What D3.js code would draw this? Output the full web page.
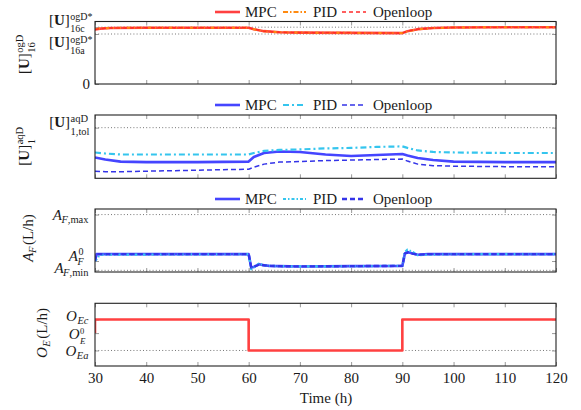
<!DOCTYPE html>
<html><head><meta charset="utf-8">
<script src="https://cdn.jsdelivr.net/npm/d3@7"></script>
<style>body{margin:0;background:#fff}svg{display:block}</style>
</head><body><svg id="c" width="581" height="410" font-family="Liberation Serif, Times New Roman, DejaVu Serif, serif"></svg>
<script>
// ---- data ----
const xTicks = [30, 40, 50, 60, 70, 80, 90, 100, 110, 120];
const seriesNames = ["MPC", "PID", "Openloop"];

// panel 1: [U]^ogD_16 (normalised: 16c = 1, 16a = 0.88)
const u16Time = [30, 31, 33, 40, 50, 60, 61, 63, 66, 70, 80, 90, 91, 93, 96, 100, 110, 120];
const u16MPC  = [0.96, 0.975, 0.985, 0.99, 0.99, 0.99, 0.965, 0.93, 0.91, 0.905, 0.9, 0.895, 0.93, 0.965, 0.985, 0.995, 1.0, 1.0];
const u16PID  = [0.965, 0.978, 0.987, 0.99, 0.992, 0.99, 0.962, 0.928, 0.91, 0.905, 0.9, 0.896, 0.928, 0.962, 0.984, 0.994, 1.0, 1.0];
const u16Open = [0.96, 0.975, 0.985, 0.99, 0.99, 0.99, 0.965, 0.93, 0.91, 0.905, 0.9, 0.895, 0.93, 0.965, 0.985, 0.995, 1.0, 1.0];
const u16Ref = {c: 1.0, a: 0.88};

// panel 2: [U]^aqD_1 (normalised: tol = 1)
const u1Time = [30, 32, 35, 40, 50, 60, 61, 63, 66, 70, 75, 80, 85, 90, 91, 93, 96, 100, 110, 120];
const u1MPC  = [0.41, 0.37, 0.33, 0.32, 0.32, 0.33, 0.42, 0.50, 0.53, 0.52, 0.47, 0.44, 0.46, 0.48, 0.45, 0.40, 0.36, 0.33, 0.32, 0.32];
const u1PID  = [0.51, 0.49, 0.47, 0.47, 0.47, 0.47, 0.50, 0.54, 0.56, 0.57, 0.59, 0.60, 0.62, 0.63, 0.60, 0.55, 0.52, 0.51, 0.50, 0.50];
const u1Open = [0.14, 0.13, 0.13, 0.14, 0.16, 0.18, 0.22, 0.28, 0.32, 0.33, 0.35, 0.36, 0.37, 0.38, 0.34, 0.28, 0.25, 0.24, 0.23, 0.23];
const u1Tol = 1.0;

// panel 3: A_F (normalised: min = 0, max = 1)
const afTime = [30, 30.3, 31, 60, 60.5, 61, 62, 63, 64, 66, 70, 80, 90, 90.5, 91, 92, 93, 95, 100, 120];
const afMPC  = [0.167, 0.29, 0.29, 0.29, 0.05, 0.06, 0.11, 0.09, 0.08, 0.075, 0.07, 0.075, 0.08, 0.30, 0.33, 0.30, 0.28, 0.29, 0.29, 0.29];
const afPID  = [0.167, 0.20, 0.28, 0.29, 0.02, 0.05, 0.12, 0.09, 0.08, 0.075, 0.07, 0.075, 0.08, 0.33, 0.37, 0.33, 0.27, 0.28, 0.29, 0.29];
const afOpen = [0.167, 0.29, 0.29, 0.29, 0.05, 0.06, 0.10, 0.09, 0.08, 0.075, 0.07, 0.075, 0.08, 0.30, 0.32, 0.30, 0.28, 0.29, 0.29, 0.29];
const afRef = {max: 1.0, zero: 0.167, min: 0.0};

// panel 4: O_E (normalised: Ea = 0, Ec = 1)
const oeTime = [30, 30, 60, 60, 90, 90, 120];
const oeVal  = [0.56, 1, 1, 0, 0, 1, 1];
const oeRef = {c: 1, zero: 0.56, a: 0};

// ---- layout ----
const FONT = '"Liberation Serif", "Times New Roman", "DejaVu Serif", serif';
const svg = d3.select("#c");
const X0 = 95, X1 = 556;
const x = d3.scaleLinear().domain([30, 120]).range([X0, X1]);

function mathText(parent, spec, opts) {
  const size = opts.size || 15;
  const ss = spec.ss || size * 0.7;
  const g = parent.append("g");
  const inner = g.append("g");
  function addSegs(t, segs) {
    t.style("font-family", FONT).attr("fill", "#1a1a1a");
    segs.forEach(s => {
      const ts = t.append("tspan").text(s[0]);
      if (s[1] === "b") ts.attr("font-weight", "bold");
      if (s[1] === "i") ts.attr("font-style", "italic");
    });
  }
  const tb = inner.append("text").attr("x", 0).attr("y", 0).attr("font-size", size);
  addSegs(tb, spec.base);
  let w = tb.node().getComputedTextLength();
  let ws = 0;
  if (spec.sup) {
    const t = inner.append("text").attr("x", w + 0.5 + (spec.supShift || 0)).attr("y", spec.supDy).attr("font-size", spec.supSize || ss);
    addSegs(t, spec.sup);
    ws = Math.max(ws, t.node().getComputedTextLength() + (spec.supShift || 0));
  }
  if (spec.sub) {
    const t = inner.append("text").attr("x", w + 0.5 + (spec.subShift || 0)).attr("y", spec.subDy).attr("font-size", spec.subSize || ss);
    addSegs(t, spec.sub);
    ws = Math.max(ws, t.node().getComputedTextLength() + (spec.subShift || 0));
  }
  let total = w + (ws ? ws + 1 : 0);
  if (spec.after) {
    const t = inner.append("text").attr("x", total + 1).attr("y", 0).attr("font-size", size);
    addSegs(t, spec.after);
    total += 1 + t.node().getComputedTextLength();
  }
  let dx = 0;
  if (opts.anchor === "end") dx = -total;
  else if (opts.anchor === "middle") dx = -total / 2;
  inner.attr("transform", `translate(${dx},0)`);
  g.attr("transform", `translate(${opts.x},${opts.y})` + (opts.rotate ? ` rotate(${opts.rotate})` : ""));
  return g;
}

function panel(cfg) {
  const y = d3.scaleLinear().domain(cfg.domain).range([cfg.bottom, cfg.top]);
  const g = svg.append("g");
  cfg.refs.forEach(r => {
    g.append("line").attr("x1", X0).attr("x2", X1).attr("y1", y(r)).attr("y2", y(r))
      .attr("stroke", "#777").attr("stroke-width", 1).attr("stroke-dasharray", "1,2.2");
  });
  const tb = g.append("g").attr("transform", `translate(0,${cfg.bottom})`)
    .call(d3.axisBottom(x).tickValues(xTicks).tickSize(-4).tickFormat(""));
  const tt = g.append("g").attr("transform", `translate(0,${cfg.top})`)
    .call(d3.axisTop(x).tickValues(xTicks).tickSize(-4).tickFormat(""));
  const tl = g.append("g").attr("transform", `translate(${X0},0)`)
    .call(d3.axisLeft(y).tickValues(cfg.yticks).tickSize(-4).tickFormat(""));
  const tr = g.append("g").attr("transform", `translate(${X1},0)`)
    .call(d3.axisRight(y).tickValues(cfg.yticks).tickSize(-4).tickFormat(""));
  [tb, tt, tl, tr].forEach(a => { a.select(".domain").remove(); a.selectAll("line").attr("stroke", "#999"); });
  const clipId = "clip" + Math.round(cfg.top);
  svg.append("clipPath").attr("id", clipId).append("rect")
    .attr("x", X0).attr("y", cfg.top).attr("width", X1 - X0).attr("height", cfg.bottom - cfg.top);
  const line = d3.line().x(d => x(d[0])).y(d => y(d[1]));
  cfg.series.forEach(s => {
    const pts = s.t.map((t, i) => [t, s.v[i]]);
    g.append("path").attr("d", line(pts)).attr("fill", "none").attr("clip-path", `url(#${clipId})`)
      .attr("stroke", s.color).attr("stroke-width", s.w).attr("stroke-dasharray", s.dash || null)
      .attr("stroke-linejoin", "round");
  });
  g.append("rect").attr("x", X0).attr("y", cfg.top).attr("width", X1 - X0).attr("height", cfg.bottom - cfg.top)
    .attr("fill", "none").attr("stroke", "#222").attr("stroke-width", 1.1);
  if (cfg.legend) {
    const ly = cfg.legendY;
    const pos = [[215, 240, 245], [283, 306, 313], [342, 366, 373]];
    cfg.series.forEach((s, i) => {
      g.append("line").attr("x1", pos[i][0]).attr("x2", pos[i][1]).attr("y1", ly).attr("y2", ly)
        .attr("stroke", s.color).attr("stroke-width", s.lw || s.w).attr("stroke-dasharray", s.dash || null);
      g.append("text").attr("x", pos[i][2]).attr("y", ly + 5).attr("font-size", 15)
        .style("font-family", FONT).attr("fill", "#1a1a1a").text(seriesNames[i]);
    });
  }
  return {g, y};
}

const red = "#ff4040", orange = "#ff8a10", blue = "#4545ff", cyan = "#35c5ee", dblue = "#3434e8";
const UB = [["[", "n"], ["U", "b"], ["]", "n"]];

// Panel 1
const p1 = panel({
  top: 21.5, bottom: 84, domain: [0, 1.1], refs: [u16Ref.c, u16Ref.a], yticks: [0, u16Ref.a, u16Ref.c],
  legend: true, legendY: 12,
  series: [
    {t: u16Time, v: u16MPC, color: red, w: 2.6},
    {t: u16Time, v: u16PID, color: orange, w: 2, dash: "5,2,1.5,2"},
    {t: u16Time, v: u16Open, color: "#ff2a2a", w: 1.5, dash: "4,3"}
  ]
});
p1.g.append("text").attr("x", 90).attr("y", p1.y(0) + 5).attr("text-anchor", "end").attr("font-size", 15)
  .style("font-family", FONT).attr("fill", "#1a1a1a").text("0");
mathText(svg, {base: UB, sup: [["ogD*", "n"]], sub: [["16c", "n"]], supDy: -5, subDy: 6.5, ss: 10},
  {x: 93, y: p1.y(u16Ref.c) - 2, anchor: "end", size: 15});
mathText(svg, {base: UB, sup: [["ogD*", "n"]], sub: [["16a", "n"]], supDy: -4.5, subDy: 7, ss: 10},
  {x: 93, y: p1.y(u16Ref.a) + 13, anchor: "end", size: 15});
mathText(svg, {base: UB, sup: [["ogD", "n"]], sub: [["16", "n"]], supDy: -6, subDy: 6},
  {x: 29, y: 54, anchor: "middle", size: 15, rotate: -90});

// Panel 2
const p2 = panel({
  top: 115, bottom: 178.3, domain: [0, 1.25], refs: [u1Tol], yticks: [u1Tol],
  legend: true, legendY: 105,
  series: [
    {t: u1Time, v: u1MPC, color: blue, w: 2.6},
    {t: u1Time, v: u1PID, color: cyan, w: 2.2, dash: "6,3,2,3"},
    {t: u1Time, v: u1Open, color: dblue, w: 1.5, dash: "5,3"}
  ]
});
mathText(svg, {base: UB, sup: [["aqD", "n"]], sub: [["1,tol", "n"]], supDy: -5, subDy: 8},
  {x: 90, y: p2.y(u1Tol) - 1, anchor: "end", size: 15});
mathText(svg, {base: UB, sup: [["aqD", "n"]], sub: [["1", "n"]], supDy: -6, subDy: 6},
  {x: 29, y: 146, anchor: "middle", size: 15, rotate: -90});

// Panel 3
const p3 = panel({
  top: 209, bottom: 272, domain: [-0.03, 1.1], refs: [afRef.max, afRef.min], yticks: [afRef.min, afRef.zero, afRef.max],
  legend: true, legendY: 199,
  series: [
    {t: afTime, v: afMPC, color: blue, w: 2.6},
    {t: afTime, v: afPID, color: cyan, w: 2.2, dash: "3,2,1.5,2"},
    {t: afTime, v: afOpen, color: dblue, w: 2.4, dash: "5,3"}
  ]
});
mathText(svg, {base: [["A", "i"]], sub: [["F", "i"], [",max", "n"]], subDy: 3, subShift: -1},
  {x: 89, y: p3.y(afRef.max) + 5, anchor: "end", size: 15});
mathText(svg, {base: [["A", "i"]], sup: [["0", "n"]], sub: [["F", "i"]], supDy: -6, subDy: 4, subShift: -1, ss: 10},
  {x: 84, y: 261, anchor: "end", size: 15});
mathText(svg, {base: [["A", "i"]], sub: [["F", "i"], [",min", "n"]], subDy: 3, subShift: -1},
  {x: 89, y: 273, anchor: "end", size: 15});
mathText(svg, {base: [["A", "i"]], sub: [["F", "i"]], after: [[" (L/h)", "n"]], subDy: 3, subShift: -1},
  {x: 33, y: 238, anchor: "middle", size: 15, rotate: -90});

// Panel 4
const p4 = panel({
  top: 303.3, bottom: 366, domain: [-0.5, 1.52], refs: [oeRef.a], yticks: [oeRef.a, oeRef.zero, oeRef.c],
  legend: false,
  series: [{t: oeTime, v: oeVal, color: red, w: 2.6}]
});
mathText(svg, {base: [["O", "i"]], sub: [["Ec", "i"]], subDy: 2.5},
  {x: 89, y: 321, anchor: "end", size: 15});
mathText(svg, {base: [["O", "i"]], sup: [["0", "n"]], sub: [["E", "i"]], supDy: -5, subDy: 5, supSize: 8.5, subSize: 9},
  {x: 86, y: 339, anchor: "end", size: 15});
mathText(svg, {base: [["O", "i"]], sub: [["Ea", "i"]], subDy: 3},
  {x: 89, y: 356, anchor: "end", size: 15});
mathText(svg, {base: [["O", "i"]], sub: [["E", "i"]], after: [[" (L/h)", "n"]], subDy: 3},
  {x: 47, y: 333, anchor: "middle", size: 15, rotate: -90});

// x axis labels
const xa = svg.append("g").attr("transform", "translate(0,366)")
  .call(d3.axisBottom(x).tickValues(xTicks).tickSize(0).tickPadding(6).tickFormat(d3.format("d")));
xa.select(".domain").remove();
xa.attr("font-family", null);
xa.selectAll("text").attr("font-size", 15).style("font-family", FONT).attr("fill", "#1a1a1a");
svg.append("text").attr("x", 326).attr("y", 403).attr("text-anchor", "middle").attr("font-size", 15)
  .style("font-family", FONT).attr("fill", "#1a1a1a").text("Time (h)");
</script></body></html>
